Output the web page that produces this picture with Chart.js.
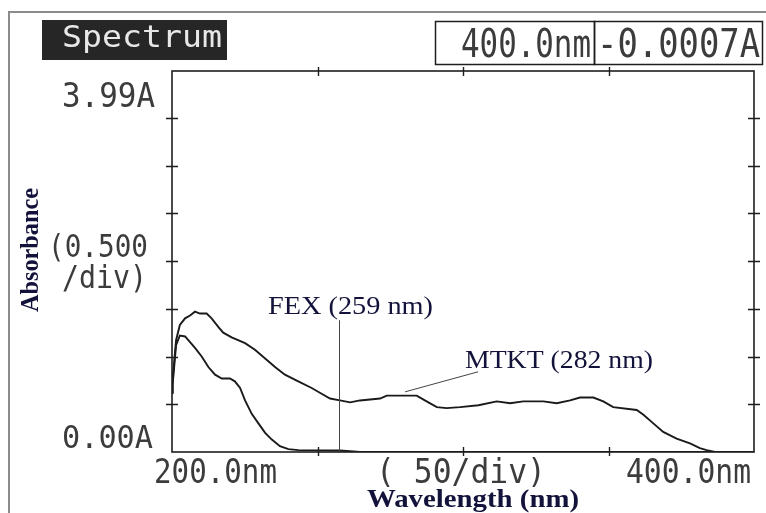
<!DOCTYPE html>
<html>
<head>
<meta charset="utf-8">
<script src="https://cdn.jsdelivr.net/npm/chart.js@4"></script>
<style>
  html, body { margin: 0; padding: 0; background: #fff; }
  #wrap { position: relative; width: 766px; height: 513px; }
</style>
</head>
<body>
<div id="wrap"><canvas id="spec" width="766" height="513"></canvas></div>
<script>
/* ── DATA ───────────────────────────────────────────── */
const mtktNm  = [200.0, 200.2, 201.4, 202.7, 204.5, 206.2, 207.9, 209.6, 211.9, 213.6, 215.9,
                 217.6, 220.5, 225.1, 228.5, 232.0, 235.4, 238.8, 243.4, 248.0, 252.0,
                 254.3, 257.7, 261.2, 264.6, 271.5, 273.8, 284.1, 287.5, 291.0, 294.4,
                 299.0, 305.3, 311.6, 316.2, 320.7, 327.6, 332.2, 336.8, 340.2, 344.8,
                 348.2, 351.6, 359.7, 362.0, 365.4, 368.8, 373.4, 378.0, 381.4, 383.7,
                 386.6, 400.0];
const mtktAbs = [0.62, 0.75, 1.17, 1.33, 1.40, 1.43, 1.47, 1.45, 1.45, 1.40, 1.31,
                 1.25, 1.20, 1.14, 1.07, 0.98, 0.89, 0.81, 0.74, 0.67, 0.60,
                 0.56, 0.54, 0.52, 0.54, 0.56, 0.59, 0.59, 0.53, 0.47, 0.46,
                 0.47, 0.49, 0.53, 0.51, 0.53, 0.53, 0.51, 0.54, 0.57, 0.57,
                 0.53, 0.47, 0.44, 0.39, 0.30, 0.21, 0.14, 0.09, 0.04, 0.02,
                 0.00, 0.00];

const fexNm   = [200.0, 200.2, 201.4, 202.7, 204.5, 206.2, 207.9, 210.2, 212.5, 214.8, 217.1,
                 219.9, 221.6, 223.4, 225.1, 227.4, 229.7, 232.0, 234.3, 237.1, 240.0,
                 243.4, 257.7, 264.6, 400.0];
const fexAbs  = [0.62, 0.70, 1.12, 1.22, 1.21, 1.15, 1.09, 1.00, 0.89, 0.81, 0.77,
                 0.77, 0.74, 0.67, 0.54, 0.40, 0.30, 0.20, 0.13, 0.06, 0.03,
                 0.02, 0.015, 0.00, 0.00];

const X_MIN = 200, X_MAX = 400, X_STEP = 50;
const Y_MIN = 0,   Y_MAX = 3.99, Y_STEP = 0.5;
const xTicks = [250, 300, 350];
const yTicks = [0.5, 1.0, 1.5, 2.0, 2.5, 3.0, 3.5];

/* annotation anchors, in data units */
const fexMark  = { nm: 257.5, from: 0.01, to: 1.38, text: 'FEX (259 nm)' };
const mtktMark = { nm0: 280.1, a0: 0.63, nm1: 305.2, a1: 0.84, text: 'MTKT (282 nm)' };

const toPts = (xs, ys) => xs.map((x, i) => ({ x, y: ys[i] }));

const MONO  = '"DejaVu Sans Mono", "Liberation Mono", monospace';
const SERIF = '"Liberation Serif", "DejaVu Serif", serif';
const INK   = '#3c3c3c';
const NAVY  = '#12123a';

/* ── HELPER: text squeezed into a given box ─────────── */
function fitText(ctx, txt, x, base, w, h, family, ratio, weight) {
  const size = h / ratio;
  ctx.font = (weight || '') + ' ' + size.toFixed(1) + 'px ' + family;
  const mw = ctx.measureText(txt).width;
  ctx.save();
  ctx.translate(x, base);
  ctx.scale(w / mw, 1);
  ctx.textBaseline = 'alphabetic';
  ctx.textAlign = 'left';
  ctx.fillText(txt, 0, 0);
  ctx.restore();
}

/* ── PLUGIN: printout frame, ticks, labels ──────────── */
const printout = {
  id: 'printout',
  beforeDraw(chart) {
    const { ctx } = chart;
    ctx.save();
    ctx.fillStyle = '#fff';
    ctx.fillRect(0, 0, chart.width, chart.height);
    /* scan border */
    ctx.strokeStyle = '#8c8c8c';
    ctx.lineWidth = 2;
    ctx.beginPath();
    ctx.moveTo(9, 513); ctx.lineTo(9, 12); ctx.lineTo(766, 12);
    ctx.stroke();
    ctx.restore();
  },
  afterDraw(chart) {
    const { ctx, chartArea: a, scales: { x, y } } = chart;
    ctx.save();

    /* plot frame */
    ctx.strokeStyle = '#1e1e1e';
    ctx.lineWidth = 1.6;
    ctx.strokeRect(a.left, a.top, a.right - a.left, a.bottom - a.top);

    /* tick marks crossing the frame */
    ctx.lineWidth = 1.4;
    ctx.beginPath();
    yTicks.forEach(v => {
      const py = Math.round(y.getPixelForValue(v)) + 0.5;
      ctx.moveTo(a.left - 6, py);  ctx.lineTo(a.left + 6, py);
      ctx.moveTo(a.right - 6, py); ctx.lineTo(a.right + 6, py);
    });
    xTicks.forEach(v => {
      const px = Math.round(x.getPixelForValue(v)) + 0.5;
      ctx.moveTo(px, a.top - 4);    ctx.lineTo(px, a.top + 5);
      ctx.moveTo(px, a.bottom - 5); ctx.lineTo(px, a.bottom + 4);
    });
    ctx.stroke();

    /* printer-style labels */
    ctx.fillStyle = INK;
    fitText(ctx, '3.99A',     62, 107,  93, 24, MONO, 0.729);
    fitText(ctx, '(0.500',    48, 257, 100, 23, MONO, 0.729);
    fitText(ctx, '/div)',     62, 288,  85, 23, MONO, 0.729);
    fitText(ctx, '0.00A',     62, 448,  91, 23, MONO, 0.729);
    fitText(ctx, '200.0nm',  154, 483, 123, 25, MONO, 0.729);
    fitText(ctx, '( 50/div)', 376, 483, 170, 25, MONO, 0.729);
    fitText(ctx, '400.0nm',  626, 483, 125, 25, MONO, 0.729);

    /* header: inverse "Spectrum" tag */
    ctx.fillStyle = '#262626';
    ctx.fillRect(42, 20, 185, 40);
    ctx.fillStyle = '#e8e8e8';
    fitText(ctx, 'Spectrum', 62, 47, 160, 22, MONO, 0.729);

    /* header: cursor readout boxes */
    ctx.strokeStyle = '#1e1e1e';
    ctx.lineWidth = 1.5;
    ctx.strokeRect(435.5, 21.5, 159, 43);
    ctx.strokeRect(594.5, 21.5, 168, 43);
    ctx.fillStyle = INK;
    fitText(ctx, '400.0nm',  461, 57, 130, 29, MONO, 0.729);
    fitText(ctx, '-0.0007A', 597, 57, 163, 29, MONO, 0.729);

    /* axis titles */
    ctx.fillStyle = NAVY;
    fitText(ctx, 'Wavelength (nm)', 367, 507, 212, 16, SERIF, 0.662, 'bold');
    ctx.save();
    ctx.translate(38, 312);
    ctx.rotate(-Math.PI / 2);
    fitText(ctx, 'Absorbance', 0, 0, 124, 16, SERIF, 0.662, 'bold');
    ctx.restore();

    /* peak annotations */
    ctx.strokeStyle = '#444';
    ctx.lineWidth = 1;
    ctx.beginPath();
    const fx = Math.round(x.getPixelForValue(fexMark.nm)) + 0.5;
    ctx.moveTo(fx, y.getPixelForValue(fexMark.to));
    ctx.lineTo(fx, y.getPixelForValue(fexMark.from));
    ctx.moveTo(x.getPixelForValue(mtktMark.nm0), y.getPixelForValue(mtktMark.a0));
    ctx.lineTo(x.getPixelForValue(mtktMark.nm1), y.getPixelForValue(mtktMark.a1));
    ctx.stroke();

    ctx.fillStyle = NAVY;
    fitText(ctx, fexMark.text,  268, 314, 165, 16, SERIF, 0.662);
    fitText(ctx, mtktMark.text, 465, 368, 188, 16, SERIF, 0.662);

    ctx.restore();
  }
};

/* ── CHART ──────────────────────────────────────────── */
const lineStyle = {
  borderColor: '#1a1a1a',
  borderWidth: 1.9,
  pointRadius: 0,
  tension: 0,
  fill: false,
  showLine: true
};

new Chart(document.getElementById('spec').getContext('2d'), {
  type: 'scatter',
  data: {
    datasets: [
      { label: 'MTKT', data: toPts(mtktNm, mtktAbs), ...lineStyle },
      { label: 'FEX',  data: toPts(fexNm, fexAbs),   ...lineStyle }
    ]
  },
  options: {
    responsive: false,
    animation: false,
    layout: { padding: { left: 172, right: 12, top: 71, bottom: 61 } },
    plugins: { legend: { display: false }, tooltip: { enabled: false } },
    scales: {
      x: { type: 'linear', display: false, min: X_MIN, max: X_MAX, ticks: { stepSize: X_STEP } },
      y: { type: 'linear', display: false, min: Y_MIN, max: Y_MAX, ticks: { stepSize: Y_STEP } }
    }
  },
  plugins: [printout]
});
</script>
</body>
</html>
